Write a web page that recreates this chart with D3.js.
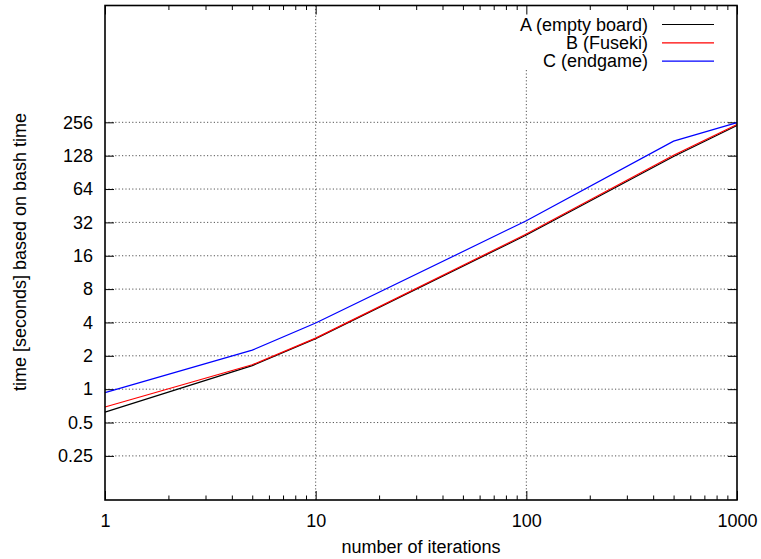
<!DOCTYPE html>
<html>
<head>
<meta charset="utf-8">
<script src="https://cdn.jsdelivr.net/npm/d3@7"></script>
<style>
  body { margin: 0; background: #fff; }
  svg { font-family: "Liberation Sans", Arial, sans-serif; }
  .grid line { stroke: #555; stroke-dasharray: 1.2,2.2; stroke-width: 1; }
</style>
</head>
<body>
<div id="chart"></div>
<script>
// Data values
const iterations = [1, 5, 10, 100, 500, 1000];
const seriesNames = ['A (empty board)', 'B (Fuseki)', 'C (endgame)'];
const seriesColors = ['#000000', '#ff0000', '#0000ff'];
const timesA = [0.62, 1.63, 2.86, 24.6, 126, 240];
const timesB = [0.69, 1.66, 2.89, 25.1, 129, 245];
const timesC = [0.93, 2.25, 3.95, 33.1, 173, 254];
const xTicks = [1, 10, 100, 1000];
const yTicks = [0.25, 0.5, 1, 2, 4, 8, 16, 32, 64, 128, 256];

const w = 761, h = 559;
const plotLeft = 105, plotRight = 737, plotTop = 5.5, plotBottom = 500;
const fontSize = '18px';

const svg = d3.select('#chart')
  .append('svg')
  .attr('width', w)
  .attr('height', h);

const xScale = d3.scaleLog()
  .domain([1, 1000])
  .range([plotLeft, plotRight]);

const yScale = d3.scaleLog()
  .base(2)
  .domain([0.1, 2900])
  .range([plotBottom, plotTop]);

// minor ticks on the x axis
const minorTicks = [];
[1, 10, 100].forEach(d => {
  for (let k = 2; k <= 9; k++) minorTicks.push(d * k);
});

// horizontal grid
svg.append('g')
  .attr('class', 'grid')
  .selectAll('line')
  .data(yTicks)
  .enter()
  .append('line')
  .attr('x1', plotLeft)
  .attr('x2', plotRight)
  .attr('y1', d => yScale(d))
  .attr('y2', d => yScale(d));

// vertical grid (the one at 100 stops under the key)
svg.append('g')
  .attr('class', 'grid')
  .selectAll('line')
  .data([10, 100])
  .enter()
  .append('line')
  .attr('x1', d => xScale(d))
  .attr('x2', d => xScale(d))
  .attr('y1', d => d === 100 ? 70 : plotTop)
  .attr('y2', plotBottom);

// axes
const fmtY = d => d < 1 ? String(d) : d3.format('d')(d);

svg.append('g')
  .attr('transform', 'translate(' + plotLeft + ',0)')
  .call(d3.axisLeft(yScale).tickValues(yTicks).tickFormat(fmtY).tickSizeInner(-9).tickSizeOuter(0).tickPadding(12))
  .call(g => g.select('.domain').remove())
  .call(g => g.selectAll('text').style('font-size', fontSize).attr('fill', '#000'))
  .call(g => g.selectAll('line').attr('stroke', '#000'));

svg.append('g')
  .attr('transform', 'translate(' + plotRight + ',0)')
  .call(d3.axisRight(yScale).tickValues(yTicks).tickFormat('').tickSizeInner(-9).tickSizeOuter(0))
  .call(g => g.select('.domain').remove());

svg.append('g')
  .attr('transform', 'translate(0,' + plotBottom + ')')
  .call(d3.axisBottom(xScale).tickValues(xTicks).tickFormat(d3.format('d')).tickSizeInner(-9).tickSizeOuter(0).tickPadding(14))
  .call(g => g.select('.domain').remove())
  .call(g => g.selectAll('text').style('font-size', fontSize).attr('fill', '#000'));

svg.append('g')
  .attr('transform', 'translate(0,' + plotBottom + ')')
  .call(d3.axisBottom(xScale).tickValues(minorTicks).tickFormat('').tickSizeInner(-4.5).tickSizeOuter(0))
  .call(g => g.select('.domain').remove());

svg.append('g')
  .attr('transform', 'translate(0,' + plotTop + ')')
  .call(d3.axisTop(xScale).tickValues(xTicks).tickFormat('').tickSizeInner(-9).tickSizeOuter(0))
  .call(g => g.select('.domain').remove());

svg.append('g')
  .attr('transform', 'translate(0,' + plotTop + ')')
  .call(d3.axisTop(xScale).tickValues(minorTicks).tickFormat('').tickSizeInner(-4.5).tickSizeOuter(0))
  .call(g => g.select('.domain').remove());

// series
const allSeries = [timesA, timesB, timesC];
const line = d3.line()
  .x((d, i) => xScale(iterations[i]))
  .y(d => yScale(d));

svg.selectAll('.series')
  .data(allSeries)
  .enter()
  .append('path')
  .attr('class', 'series')
  .attr('fill', 'none')
  .attr('stroke', (d, i) => seriesColors[i])
  .attr('stroke-width', 1.2)
  .attr('d', line);

// border
svg.append('rect')
  .attr('x', plotLeft)
  .attr('y', plotTop)
  .attr('width', plotRight - plotLeft)
  .attr('height', plotBottom - plotTop)
  .attr('fill', 'none')
  .attr('stroke', '#000')
  .attr('stroke-width', 1.6);

// key
const key = svg.append('g')
  .selectAll('g')
  .data(seriesNames)
  .enter()
  .append('g')
  .attr('transform', (d, i) => 'translate(0,' + (24.5 + i * 18.3) + ')');

key.append('text')
  .attr('x', 648)
  .attr('dy', '0.35em')
  .attr('text-anchor', 'end')
  .style('font-size', fontSize)
  .text(d => d);

key.append('line')
  .attr('x1', 662)
  .attr('x2', 714)
  .attr('stroke', (d, i) => seriesColors[i])
  .attr('stroke-width', 1.2);

// axis titles
svg.append('text')
  .attr('x', 421)
  .attr('y', 553)
  .attr('text-anchor', 'middle')
  .style('font-size', fontSize)
  .text('number of iterations');

svg.append('text')
  .attr('transform', 'translate(26,252) rotate(-90)')
  .attr('text-anchor', 'middle')
  .style('font-size', fontSize)
  .text('time [seconds] based on bash time');
</script>
</body>
</html>
